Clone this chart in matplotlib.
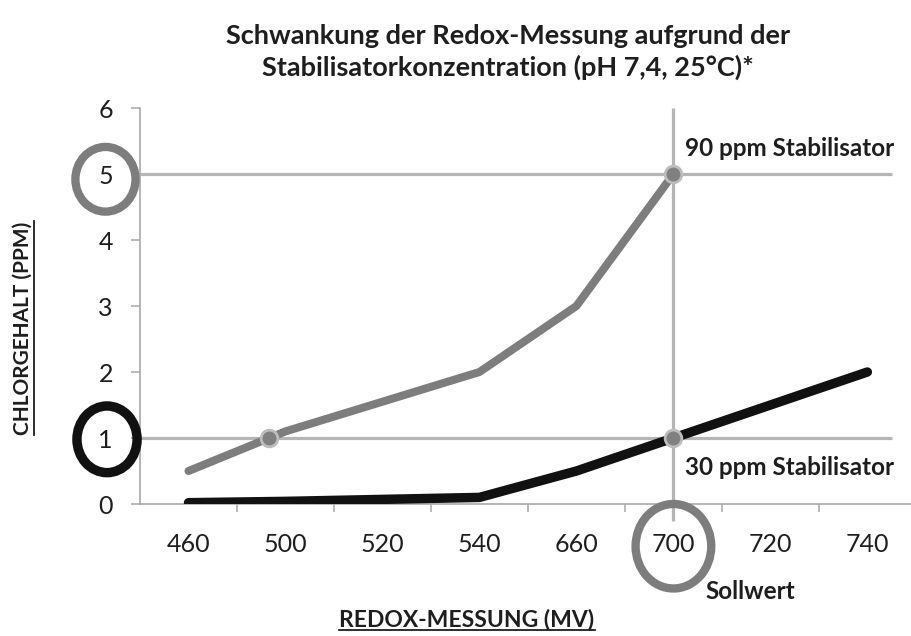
import numpy as np
import matplotlib.pyplot as plt
from matplotlib.patches import Ellipse
from matplotlib.lines import Line2D

plt.rcParams['font.family'] = ['Lato', 'DejaVu Sans']

# Redox reading (mV) on a category axis, chlorine content in ppm
redox = ['460', '500', '520', '540', '660', '700', '720', '740']
stab_90 = [0.5, 1.1, 1.55, 2.0, 3.0, 5.0]            # 90 ppm stabiliser, stops at 700 mV
stab_30 = [0.02, 0.04, 0.07, 0.1, 0.5, 1.0, 1.5, 2.0]  # 30 ppm stabiliser
chlor_ticks = [0, 1, 2, 3, 4, 5, 6]
setpoint = '700'
ref_levels = [1, 5]

GRAY = '#7d7d7d'
LIGHT = '#b5b5b5'
DARK = '#111111'
TXT = '#1e1e1e'

W, H = 912, 636
x = np.arange(len(redox))
i_set = redox.index(setpoint)

fig = plt.figure(figsize=(W / 100, H / 100), dpi=100)
ax = fig.add_axes([140 / W, 132 / H, 772 / W, 396 / H])
ax.set_xlim(-0.5, 7.46)
ax.set_ylim(0, 6)

# reference lines at 1 and 5 ppm plus the setpoint line
ax.hlines(ref_levels, -0.5, 7.25, color=LIGHT, lw=2.3, zorder=1)
ax.vlines(i_set, -0.25, 6, color=LIGHT, lw=2.3, zorder=1, clip_on=False)

ax.plot(x[:len(stab_90)], stab_90, color=GRAY, lw=5.8, solid_capstyle='round', zorder=3)
ax.plot(x, stab_30, color=DARK, lw=6.8, solid_capstyle='round', zorder=3)

# dots where the curves meet the reference lines
cross_x = np.interp(ref_levels[0], stab_90, x[:len(stab_90)])
dots_x = [cross_x, i_set, i_set]
dots_y = [ref_levels[0], stab_90[i_set], stab_30[i_set]]
ax.plot(dots_x, dots_y, 'o', ms=12, mfc='#808080', mec='#bdbdbd', mew=2, zorder=4)

# spines and ticks
for s in ['top', 'right']:
    ax.spines[s].set_visible(False)
for s in ['left', 'bottom']:
    ax.spines[s].set_color('#a8a8a8')
    ax.spines[s].set_linewidth(1.2)

ax.set_yticks(chlor_ticks)
ax.set_yticklabels([str(v) for v in chlor_ticks])
ax.tick_params(axis='y', length=6.5, width=1.1, color='#a8a8a8', pad=13,
               labelsize=18, labelcolor=TXT)

ax.set_xticks(np.arange(0.5, len(redox) - 1, 1.0))
ax.set_xticklabels([])
ax.set_xticks(x, minor=True)
ax.set_xticklabels(redox, minor=True)
ax.tick_params(axis='x', which='major', length=6, width=1.1, color='#a8a8a8')
ax.tick_params(axis='x', which='minor', length=0, pad=21, labelsize=18, labelcolor=TXT)

# highlight rings around 5 ppm, 1 ppm and the setpoint
rings = [
    (-0.856, 4.92, 0.62, 0.98, GRAY, 6.0),
    (-0.84, 0.98, 0.62, 1.01, DARK, 6.8),
    (i_set, -0.64, 0.78, 1.28, GRAY, 6.0),
]
for cx, cy, w, h, c, lw in rings:
    ax.add_patch(Ellipse((cx, cy), w, h, fill=False, ec=c, lw=lw,
                         clip_on=False, zorder=5))

ann = dict(textcoords='offset points', ha='left', va='center',
           fontsize=17.5, fontweight='bold', color=TXT, annotation_clip=False)
ax.annotate('90 ppm Stabilisator', xy=(i_set, stab_90[i_set]), xytext=(8, 18), **ann)
ax.annotate('30 ppm Stabilisator', xy=(i_set, stab_30[i_set]), xytext=(8, -21), **ann)
ax.annotate('Sollwert', xy=(i_set, 0), xytext=(23, -63), **ann)

fig.text(508 / W, 1 - 52 / H,
         'Schwankung der Redox-Messung aufgrund der\nStabilisatorkonzentration (pH 7,4, 25°C)*',
         ha='center', va='center', fontsize=19.5, fontweight='bold', color=TXT,
         linespacing=1.3)

xl = fig.text(467 / W, 1 - 620 / H, 'REDOX-MESSUNG (MV)', ha='center', va='center',
              fontsize=16.5, fontweight='bold', color=TXT)
yl = fig.text(23 / W, 1 - 328 / H, 'CHLORGEHALT (PPM)', ha='center', va='center',
              rotation=90, fontsize=15, fontweight='bold', color=TXT)

# underline both axis titles
fig.canvas.draw()
r = fig.canvas.get_renderer()
bb = xl.get_window_extent(r)
uy = max(bb.y0 + 1, 3)
fig.add_artist(Line2D([bb.x0 / W, bb.x1 / W], [uy / H, uy / H],
                      transform=fig.transFigure, color=TXT, lw=1.3))
bb = yl.get_window_extent(r)
fig.add_artist(Line2D([(bb.x1 + 1) / W, (bb.x1 + 1) / W], [bb.y0 / H, bb.y1 / H],
                      transform=fig.transFigure, color=TXT, lw=1.3))

fig.savefig('out.png', dpi=100)
